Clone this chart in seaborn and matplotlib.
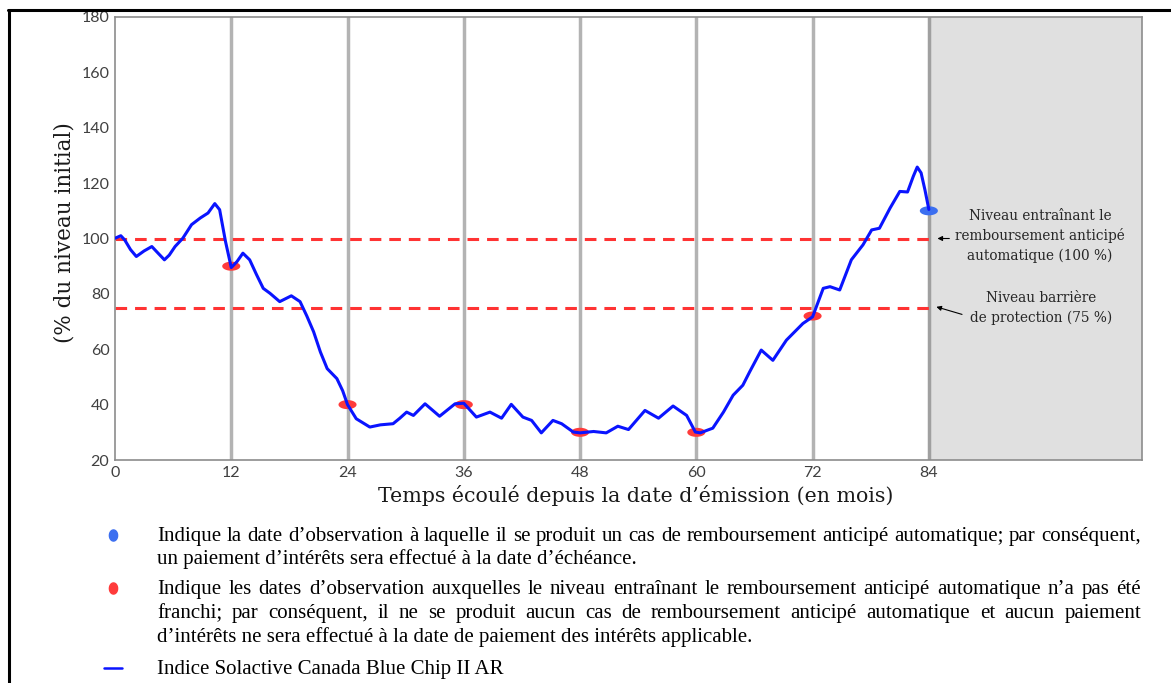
import numpy as np
import pandas as pd
import matplotlib
matplotlib.use('Agg')
import matplotlib.pyplot as plt
import seaborn as sns
from matplotlib.lines import Line2D

# Index path (months since issue, % of initial level)
months = [0, 0.6, 1.0, 1.6, 2.2, 3.0, 3.8, 4.5, 5.1, 5.6, 6.2, 7.0, 7.9, 8.8, 9.6, 10.3, 10.8,
          11.4, 12.0, 12.6, 13.2, 13.9, 14.6, 15.3, 16.0, 17.0, 18.2, 19.1, 19.8, 20.5, 21.2,
          21.9, 22.9, 23.5, 24.0, 24.9, 26.3, 27.4, 28.7, 29.4, 30.1, 30.8, 32.0, 33.5, 35.1,
          36.0, 37.3, 38.7, 39.9, 40.9, 42.1, 43.0, 44.0, 45.2, 46.1, 47.3, 48.0, 49.4,
          50.7, 51.9, 53.0, 54.7, 56.1, 57.6, 59.0, 59.9, 60.4, 61.7, 62.8, 63.8,
          64.8, 65.5, 66.7, 67.9, 69.3, 71.0, 72.0, 73.1, 73.8, 74.8, 76.0, 77.2,
          78.1, 78.9, 80.0, 81.0, 81.8, 82.4, 82.8, 83.2, 83.6, 84.0]
levels = [100.1, 101.0, 99.5, 96.0, 93.5, 95.5, 97.1, 94.5, 92.3, 94.0, 97.1, 100.1, 105.0,
          107.4, 109.2, 112.6, 110.4, 99.0, 89.5, 91.7, 94.7, 92.3, 87.0, 82.0, 80.2, 77.2,
          79.3, 77.2, 72.0, 66.3, 59.0, 53.0, 49.4, 45.0, 40.0, 34.9, 31.9, 32.7, 33.1, 35.1,
          37.3, 36.1, 40.3, 35.8, 40.3, 40.5, 35.5, 37.3, 35.1, 40.1, 35.5, 34.3, 29.8, 34.3,
          33.1, 30.1, 29.8, 30.3, 29.8, 32.2, 31.0, 37.9, 35.1, 39.5, 36.1, 30.1, 29.8, 31.5,
          37.3, 43.4, 47.0, 51.8, 59.7, 56.0, 63.3, 69.3, 71.7, 82.0, 82.6, 81.4, 92.3, 97.7,
          103.1, 103.7, 111.0, 117.0, 116.8, 122.5, 125.8, 123.7, 117.5, 110.5]

obs_months = [12, 24, 36, 48, 60, 72]
obs_levels = [90, 40, 40, 30, 30, 72]
call_month = [84]
call_level = [110]

barriers = [100, 75]
x_ticks = [0, 12, 24, 36, 48, 60, 72, 84]
y_ticks = [20, 40, 60, 80, 100, 120, 140, 160, 180]

W, H = 1171, 683

def fx(px):
    return px / W

def fy(py):
    return 1 - py / H

sns.set_style('white')
plt.rcParams['font.family'] = ['DejaVu Serif']

fig = plt.figure(figsize=(W / 100, H / 100), dpi=100)
ax = fig.add_axes([fx(115), fy(460), (1142 - 115) / W, (460 - 17) / H])

# shaded post-maturity area and observation dates
ax.axvspan(84, 106, color='#e0e0e0', zorder=0)
for m in x_ticks[1:]:
    ax.axvline(m, color='#b3b3b3' if m < 84 else '#a0a0a0', lw=2.5, zorder=1)

ax.hlines(barriers, 0, 84, colors='#ff3333', lw=2.2, linestyles=[(0, (3.8, 2.6))], zorder=2)

ellipse = [(2 * np.cos(t), np.sin(t)) for t in np.linspace(0, 2 * np.pi, 40)]
sns.scatterplot(x=obs_months, y=obs_levels, marker=ellipse, s=170, color='#ff3b3b',
                edgecolor='none', ax=ax, zorder=3)
sns.scatterplot(x=call_month, y=call_level, marker=ellipse, s=170, color='#3c6ff0',
                edgecolor='none', ax=ax, zorder=3)
df = pd.DataFrame({'mois': months, 'niveau': levels})
sns.lineplot(data=df, x='mois', y='niveau', color='#0a14ff', lw=2.2, ax=ax, zorder=4)

ax.set_xlim(0, 106)
ax.set_ylim(20, 180)
ax.set_xticks(x_ticks)
ax.set_yticks(y_ticks)
ax.tick_params(axis='both', length=3, width=0.8, color='#8c8c8c', pad=1,
               labelsize=11.5, labelcolor='#404040')
for lab in ax.get_xticklabels() + ax.get_yticklabels():
    lab.set_family('Lato')
ax.set_xlabel('')
ax.set_ylabel('')
for s in ax.spines.values():
    s.set_color('#8c8c8c')
    s.set_linewidth(1.2)

fig.text(fx(636), fy(495), 'Temps écoulé depuis la date d’émission (en mois)',
         ha='center', va='center', fontsize=14.8, color='#1a1a1a')
fig.text(fx(65), fy(233), '(% du niveau initial)', rotation=90,
         ha='center', va='center', fontsize=15.5, color='#1a1a1a')

# right-hand notes
ax.annotate('', xy=(84.6, 100), xytext=(86.4, 100),
            arrowprops=dict(arrowstyle='-|>', color='black', lw=0.8, mutation_scale=7))
ax.annotate('', xy=(84.5, 75.6), xytext=(87.7, 72.3),
            arrowprops=dict(arrowstyle='-|>', color='black', lw=0.8, mutation_scale=7))
fig.text(fx(1040), fy(236), 'Niveau entraînant le\nremboursement anticipé\nautomatique (100 %)',
         ha='center', va='center', fontsize=9.8, linespacing=1.45, color='#262626')
fig.text(fx(1041), fy(308), 'Niveau barrière\nde protection (75 %)',
         ha='center', va='center', fontsize=9.8, linespacing=1.45, color='#262626')

# legend below the chart (y values are text baselines in pixels)
leg_font = dict(family='Liberation Serif', fontsize=15, color='black', va='baseline')
renderer = fig.canvas.get_renderer()


def justified(line, py, x0=157, x1=1141):
    words = line.split(' ')
    texts = [fig.text(0, fy(py), w, **leg_font) for w in words]
    widths = [t.get_window_extent(renderer).width for t in texts]
    gap = (x1 - x0 - sum(widths)) / (len(words) - 1)
    x = x0
    for t, w in zip(texts, widths):
        t.set_x(fx(x))
        x += w + gap


justified('Indique la date d’observation à laquelle il se produit un cas de remboursement '
          'anticipé automatique; par conséquent,', 541)
fig.text(fx(157), fy(564), 'un paiement d’intérêts sera effectué à la date d’échéance.', **leg_font)
justified('Indique les dates d’observation auxquelles le niveau entraînant le remboursement '
          'anticipé automatique n’a pas été', 594)
justified('franchi; par conséquent, il ne se produit aucun cas de remboursement anticipé '
          'automatique et aucun paiement', 618)
fig.text(fx(157), fy(642), 'd’intérêts ne sera effectué à la date de paiement des intérêts applicable.',
         **leg_font)
fig.text(fx(157), fy(674), 'Indice Solactive Canada Blue Chip II AR', **leg_font)

bullet = [(np.cos(t), 1.35 * np.sin(t)) for t in np.linspace(0, 2 * np.pi, 40)]
fig.add_artist(Line2D([fx(113)], [fy(535)], marker=bullet, ms=8, color='#3c6ff0', lw=0))
fig.add_artist(Line2D([fx(113)], [fy(588)], marker=bullet, ms=8, color='#ff3b3b', lw=0))
fig.add_artist(Line2D([fx(104), fx(122)], [fy(668), fy(668)], color='#0a14ff', lw=1.8))

# page frame
fig.add_artist(Line2D([fx(8), 1], [fy(10), fy(10)], color='black', lw=2.2))
fig.add_artist(Line2D([fx(9), fx(9)], [0, fy(10)], color='black', lw=2.2))

fig.savefig('out.png', dpi=100)
